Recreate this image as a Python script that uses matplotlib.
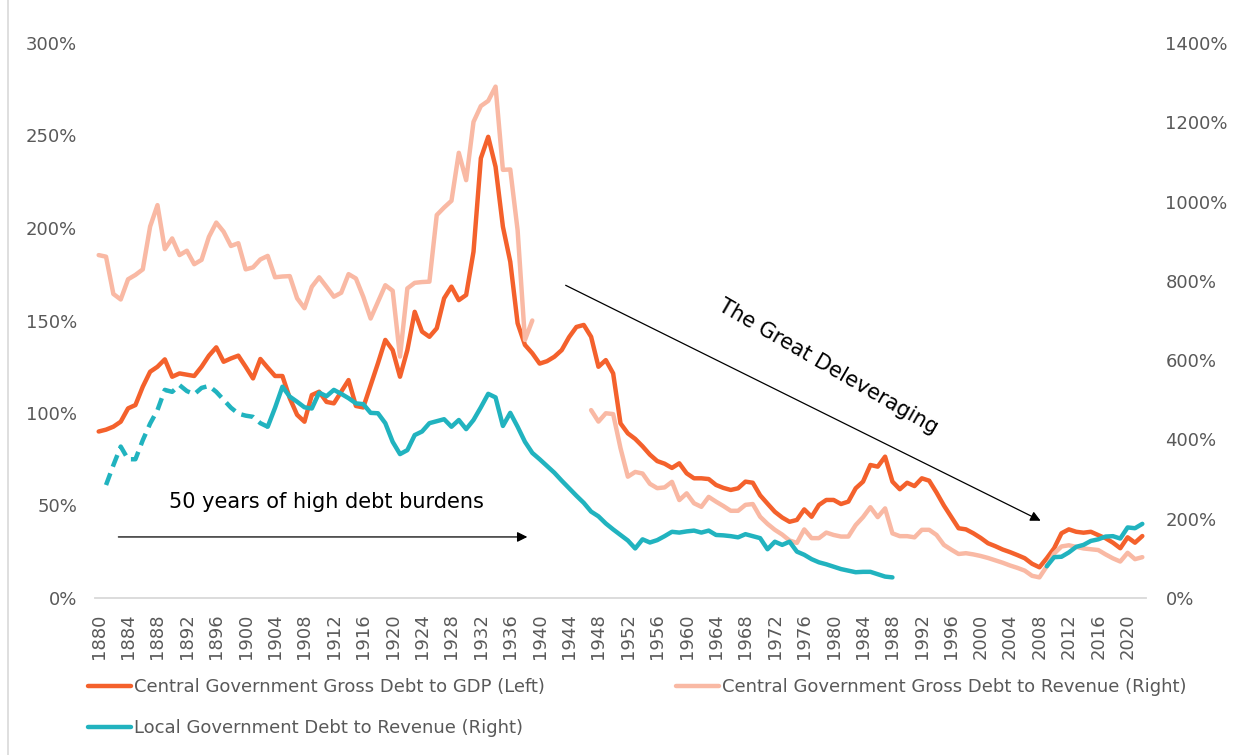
import numpy as np
import matplotlib
matplotlib.use("Agg")
import matplotlib.pyplot as plt
from matplotlib.lines import Line2D
from matplotlib.ticker import FuncFormatter

nan = np.nan

years = np.arange(1880, 2023)

# central government gross debt, % of GDP (left axis)
central_gdp = [
    90, 91, 92.6, 95.3, 102.5, 104.3, 114.2, 122.3, 125, 129,
    119.6, 121.4, 120.7, 120, 125, 131, 135.5, 127.7, 129.5, 131,
    125, 118.7, 129.2, 124.5, 120, 120, 108, 99, 95.3, 109.7,
    111.5, 106, 105.2, 111.5, 117.8, 103.8, 103, 115, 126.9, 139.5,
    134, 119.6, 134, 154.7, 144, 141.2, 145.8, 162, 168.3, 161,
    163.8, 187.2, 237.7, 249.3, 233.1, 200.7, 181.8, 148.5, 136.8, 132.3,
    126.7, 128, 130.4, 134, 141, 146.5, 147.6, 141.2, 125, 128.6,
    121.4, 94.4, 89, 86, 82, 77.5, 74, 72.6, 70.3, 72.8,
    67.4, 64.7, 64.7, 64.3, 61.1, 59.5, 58.4, 59.3, 62.9, 62.3,
    55.5, 51, 46.6, 43.5, 41.2, 42.2, 47.9, 43.9, 50.3, 53,
    53, 50.8, 52.1, 59.3, 62.9, 71.9, 71, 76.4, 62.9, 58.8,
    62.3, 60.5, 64.7, 63.4, 57, 50, 43.9, 37.7, 37.1, 35,
    32.5, 29.6, 28, 26.2, 24.8, 23.2, 21.5, 18.5, 16.6, 21.5,
    26.9, 35, 37.1, 35.8, 35.3, 35.8, 34, 32.3, 29.9, 26.9,
    32.8, 29.9, 33.5,
]

# central government gross debt, % of revenue (right axis)
central_rev = [
    865, 861, 767, 753, 804, 815, 829, 937, 991, 880,
    907, 865, 876, 842, 853, 911, 947, 924, 888, 895,
    829, 834, 854, 863, 809, 811, 812, 756, 731, 785,
    809, 785, 760, 770, 817, 806, 760, 705, 747, 789,
    775, 609, 781, 795, 797, 798, 966, 985, 1002, 1123,
    1054, 1201, 1241, 1254, 1290, 1080, 1081, 928, 651, 700,
    nan, nan, nan, nan, nan, nan, nan, 474, 445, 466,
    464, 378, 306, 318, 314, 288, 277, 279, 293, 247,
    264, 239, 230, 255, 243, 232, 220, 220, 235, 237,
    205, 187, 172, 160, 145, 139, 173, 151, 151, 165,
    159, 155, 155, 184, 204, 229, 204, 226, 163, 156,
    156, 153, 172, 172, 159, 134, 122, 111, 113, 110,
    106, 101, 95, 89, 82, 76, 69, 56, 52, 80,
    112, 130, 133, 129, 125, 123, 121, 110, 100, 92,
    114, 98, 103,
]

# local government debt, % of revenue (right axis)
local_rev = [
    nan, nan, nan, nan, nan, nan, nan, nan, nan, nan,
    nan, nan, nan, nan, nan, nan, nan, nan, nan, nan,
    nan, nan, nan, 432, 480, 533, 508, 495, 481, 478,
    518, 509, 525, 515, 504, 491, 489, 467, 466, 441,
    394, 363, 373, 411, 420, 441, 446, 451, 432, 449,
    426, 449, 481, 515, 506, 434, 467, 432, 394, 366,
    350, 333, 316, 296, 277, 258, 240, 218, 206, 188,
    173, 159, 145, 125, 148, 140, 146, 156, 167, 165,
    168, 170, 165, 170, 159, 158, 156, 153, 161, 156,
    151, 123, 142, 134, 142, 117, 109, 98, 90, 85,
    79, 73, 69, 65, 66, 66, 60, 54, 52, nan,
    nan, nan, nan, nan, nan, nan, nan, nan, nan, nan,
    nan, nan, nan, nan, nan, nan, nan, nan, nan, 80,
    103, 104, 115, 129, 134, 144, 148, 155, 156, 150,
    178, 176, 187,
]

# earlier estimate for local debt, drawn dashed
est_years = np.arange(1881, 1904)
local_est = [285, 335, 382, 350, 350, 398, 440, 474, 525, 520, 537, 522,
             514, 530, 535, 520, 500, 480, 465, 460, 457, 441, 432]

label_gdp = "Central Government Gross Debt to GDP (Left)"
label_rev = "Central Government Gross Debt to Revenue (Right)"
label_local = "Local Government Debt to Revenue (Right)"

ORANGE = "#F4612C"
PINK = "#F9B9A4"
TEAL = "#21B3BF"
GREY = "#595959"

W, H = 1235, 755
fig = plt.figure(figsize=(W / 100, H / 100), dpi=100)
ax = fig.add_axes([95 / W, 1 - 598 / H, (1146 - 95) / W, (598 - 43) / H])
ax2 = ax.twinx()

line_kw = dict(lw=3.2, solid_capstyle="round", solid_joinstyle="round")
h_gdp, = ax.plot(years, np.array(central_gdp, float), color=ORANGE, **line_kw)
h_rev, = ax2.plot(years, np.array(central_rev, float), color=PINK, **line_kw)
h_loc, = ax2.plot(years, np.array(local_rev, float), color=TEAL, **line_kw)
ax2.plot(est_years, local_est, color=TEAL, lw=3.2, ls=(0, (2.8, 1.6)))

ax.set_xlim(1879.5, 2022.5)
ax.set_ylim(0, 300)
ax2.set_ylim(0, 1400)
ax.set_yticks(np.arange(0, 301, 50))
ax2.set_yticks(np.arange(0, 1401, 200))
ax.set_xticks(np.arange(1880, 2021, 4))
ax.tick_params(axis="x", length=0, pad=11, labelsize=13, labelcolor=GREY, labelrotation=90)
ax.tick_params(axis="y", length=0, pad=13, labelsize=13, labelcolor=GREY)
ax2.tick_params(axis="y", length=0, pad=14, labelsize=13, labelcolor=GREY)
pct = FuncFormatter(lambda v, p: f"{v:.0f}%")
ax.yaxis.set_major_formatter(pct)
ax2.yaxis.set_major_formatter(pct)

for a in (ax, ax2):
    for s in a.spines.values():
        s.set_visible(False)
ax.spines["bottom"].set_visible(True)
ax.spines["bottom"].set_color("#d9d9d9")
ax.spines["bottom"].set_linewidth(1.3)

# annotations
ax.annotate("", xy=(1938.7, 33.0), xytext=(1882.3, 33.0),
            arrowprops=dict(arrowstyle="-|>", color="black", lw=0.9, mutation_scale=15))
ax.text(1911, 51.9, "50 years of high debt burdens", fontsize=15, ha="center", va="center")
ax.annotate("", xy=(2008.5, 41.1), xytext=(1943.2, 169.7),
            arrowprops=dict(arrowstyle="-|>", color="black", lw=0.9, mutation_scale=15))
ax.text(1979.2, 125, "The Great Deleveraging", fontsize=15, rotation=-30,
        rotation_mode="anchor", ha="center", va="center")

leg_kw = dict(loc="upper left", frameon=False, fontsize=13, labelcolor=GREY,
              handlelength=2.4, handletextpad=0.15, labelspacing=1.3,
              borderpad=0, borderaxespad=0)
fig.legend([h_gdp, h_loc], [label_gdp, label_local],
           bbox_to_anchor=(88 / W, 1 - 678 / H), **leg_kw)
fig.legend([h_rev], [label_rev], bbox_to_anchor=(676 / W, 1 - 678 / H), **leg_kw)

fig.add_artist(Line2D([8 / W, 8 / W], [0, 1], color="#d9d9d9", lw=1.2,
                      transform=fig.transFigure))

fig.savefig("out.png", dpi=100)
